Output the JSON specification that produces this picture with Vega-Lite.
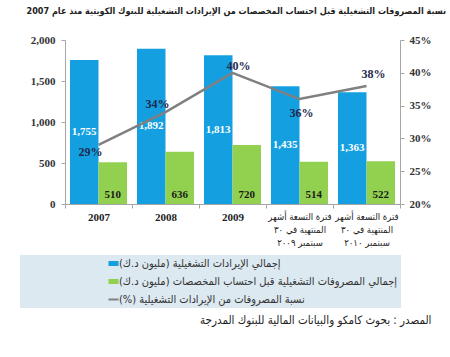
{
  "$schema": "https://vega.github.io/schema/vega-lite/v6.json",
  "width": 335,
  "height": 164,
  "autosize": {"type": "none"},
  "padding": {"left": 65, "top": 40, "right": 50, "bottom": 153},
  "background": "white",
  "config": {"view": {"stroke": null}, "font": "Liberation Serif"},
  "title": {
    "text": "نسبة المصروفات التشغيلية قبل احتساب المخصصات من الإيرادات التشغيلية للبنوك الكويتية منذ عام 2007",
    "anchor": "end",
    "frame": "group",
    "dx": 46,
    "offset": 18,
    "font": "DejaVu Sans Condensed",
    "fontSize": 9,
    "fontWeight": "bold",
    "color": "#222222"
  },
  "datasets": {
    "bars": [
      {"period": "2007", "series": "إجمالي الإيرادات التشغيلية (مليون د.ك)", "value": 1755},
      {"period": "2007", "series": "إجمالي المصروفات التشغيلية قبل احتساب المخصصات (مليون د.ك)", "value": 510},
      {"period": "2008", "series": "إجمالي الإيرادات التشغيلية (مليون د.ك)", "value": 1892},
      {"period": "2008", "series": "إجمالي المصروفات التشغيلية قبل احتساب المخصصات (مليون د.ك)", "value": 636},
      {"period": "2009", "series": "إجمالي الإيرادات التشغيلية (مليون د.ك)", "value": 1813},
      {"period": "2009", "series": "إجمالي المصروفات التشغيلية قبل احتساب المخصصات (مليون د.ك)", "value": 720},
      {"period": "فترة التسعة أشهر|المنتهية في ٣٠|سبتمبر ٢٠٠٩", "series": "إجمالي الإيرادات التشغيلية (مليون د.ك)", "value": 1435},
      {"period": "فترة التسعة أشهر|المنتهية في ٣٠|سبتمبر ٢٠٠٩", "series": "إجمالي المصروفات التشغيلية قبل احتساب المخصصات (مليون د.ك)", "value": 514},
      {"period": "فترة التسعة أشهر|المنتهية في ٣٠|سبتمبر ٢٠١٠", "series": "إجمالي الإيرادات التشغيلية (مليون د.ك)", "value": 1363},
      {"period": "فترة التسعة أشهر|المنتهية في ٣٠|سبتمبر ٢٠١٠", "series": "إجمالي المصروفات التشغيلية قبل احتساب المخصصات (مليون د.ك)", "value": 522}
    ],
    "ratio": [
      {"period": "2007", "ratio": 0.29},
      {"period": "2008", "ratio": 0.34},
      {"period": "2009", "ratio": 0.40},
      {"period": "فترة التسعة أشهر|المنتهية في ٣٠|سبتمبر ٢٠٠٩", "ratio": 0.36},
      {"period": "فترة التسعة أشهر|المنتهية في ٣٠|سبتمبر ٢٠١٠", "ratio": 0.38}
    ]
  },
  "layer": [
    {
      "data": {"name": "bars"},
      "mark": {"type": "bar"},
      "encoding": {
        "x": {
          "field": "period",
          "type": "nominal",
          "sort": null,
          "scale": {
            "domain": ["2007", "2008", "2009", "فترة التسعة أشهر|المنتهية في ٣٠|سبتمبر ٢٠٠٩", "فترة التسعة أشهر|المنتهية في ٣٠|سبتمبر ٢٠١٠"],
            "paddingInner": 0,
            "paddingOuter": 0
          },
          "axis": {
            "title": "المصدر : بحوث كامكو والبيانات المالية للبنوك المدرجة",
            "titleX": 366,
            "titleY": 116,
            "titleAnchor": "end",
            "titleAlign": "right",
            "titleBaseline": "middle",
            "titleFont": "DejaVu Sans Condensed",
            "titleFontSize": 11.5,
            "titleFontWeight": "normal",
            "titleColor": "#222222",
            "labelAngle": 0,
            "labelExpr": "split(datum.label, '|')",
            "labelFont": {"condition": {"test": "length(datum.label) < 5", "value": "Liberation Serif"}, "value": "DejaVu Sans Condensed"},
            "labelFontWeight": {"condition": {"test": "length(datum.label) < 5", "value": "bold"}, "value": "normal"},
            "labelFontSize": {"condition": {"test": "length(datum.label) < 5", "value": 11}, "value": 9.5},
            "labelColor": "#222222",
            "labelLineHeight": 13,
            "labelPadding": 3,
            "labelBaseline": "top",
            "labelLimit": 200,
            "tickBand": "extent",
            "tickSize": 4,
            "tickColor": "#a6a6a6",
            "domainColor": "#a6a6a6"
          }
        },
        "xOffset": {
          "field": "series",
          "type": "nominal",
          "scale": {
            "domain": ["إجمالي الإيرادات التشغيلية (مليون د.ك)", "إجمالي المصروفات التشغيلية قبل احتساب المخصصات (مليون د.ك)"],
            "paddingInner": 0,
            "paddingOuter": 0.175
          }
        },
        "y": {
          "field": "value",
          "type": "quantitative",
          "scale": {"domain": [0, 2000]},
          "axis": {
            "title": null,
            "values": [0, 500, 1000, 1500, 2000],
            "format": ",.0f",
            "grid": false,
            "labelFont": "Liberation Serif",
            "labelFontWeight": "bold",
            "labelFontSize": 11,
            "labelColor": "#333333",
            "tickSize": 4,
            "labelPadding": 6,
            "tickColor": "#a6a6a6",
            "domainColor": "#a6a6a6"
          }
        },
        "color": {
          "field": "series",
          "type": "nominal",
          "scale": {
            "domain": ["إجمالي الإيرادات التشغيلية (مليون د.ك)", "إجمالي المصروفات التشغيلية قبل احتساب المخصصات (مليون د.ك)", "نسبة المصروفات من الإيرادات التشغيلية (%)"],
            "range": ["#14a0e0", "#92d050", "#808080"]
          },
          "legend": {
            "orient": "none",
            "legendX": -45,
            "legendY": 215,
            "direction": "vertical",
            "title": null,
            "fillColor": "#dce9f1",
            "padding": 3,
            "symbolType": "stroke",
            "symbolSize": 100,
            "symbolStrokeWidth": 5,
            "symbolOffset": 85,
            "labelOffset": 0,
            "labelFont": "DejaVu Sans Condensed",
            "labelFontSize": 11,
            "labelColor": "#333333",
            "labelLimit": 400,
            "labelExpr": "datum.label + '\u200f\u2003\u2003\u2003\u2003\u2003\u2003\u2003\u2003\u2003'",
            "rowPadding": 6,
            "clipHeight": 11,
            "encode": {
              "symbols": {
                "update": {
                  "strokeWidth": {"signal": "datum.value === 'نسبة المصروفات من الإيرادات التشغيلية (%)' ? 2 : 5"},
                  "stroke": {"signal": "scale('color', datum.value)"}
                }
              }
            }
          }
        }
      }
    },
    {
      "data": {"name": "bars"},
      "transform": [{"filter": "datum.value > 1000"}],
      "mark": {"type": "text", "color": "white", "font": "Liberation Serif", "fontWeight": "bold", "fontSize": 11, "baseline": "middle"},
      "encoding": {
        "x": {"field": "period", "type": "nominal", "sort": null},
        "xOffset": {"field": "series", "type": "nominal"},
        "y": {"field": "value", "type": "quantitative", "scale": {"domain": [0, 4000]}, "axis": null},
        "text": {"field": "value", "type": "quantitative", "format": ","}
      }
    },
    {
      "data": {"name": "bars"},
      "transform": [{"filter": "datum.value < 1000"}],
      "mark": {"type": "text", "color": "#1a1a1a", "font": "Liberation Serif", "fontWeight": "bold", "fontSize": 11, "baseline": "middle", "dy": -9},
      "encoding": {
        "x": {"field": "period", "type": "nominal", "sort": null},
        "xOffset": {"field": "series", "type": "nominal"},
        "y": {"datum": 0, "type": "quantitative", "scale": {"domain": [0, 2000]}, "axis": null},
        "text": {"field": "value", "type": "quantitative", "format": ","}
      }
    },
    {
      "data": {"name": "ratio"},
      "mark": {"type": "line", "strokeWidth": 2.5},
      "encoding": {
        "x": {"field": "period", "type": "nominal", "sort": null},
        "y": {
          "field": "ratio",
          "type": "quantitative",
          "scale": {"domain": [0.2, 0.45]},
          "axis": {
            "orient": "right",
            "title": null,
            "values": [0.2, 0.25, 0.3, 0.35, 0.4, 0.45],
            "format": ".0%",
            "grid": false,
            "labelFont": "Liberation Serif",
            "labelFontWeight": "bold",
            "labelFontSize": 11,
            "labelColor": "#333333",
            "tickSize": 4,
            "labelPadding": 5,
            "tickColor": "#a6a6a6",
            "domainColor": "#a6a6a6"
          }
        },
        "color": {"datum": "نسبة المصروفات من الإيرادات التشغيلية (%)"}
      }
    },
    {
      "data": {"name": "ratio"},
      "mark": {
        "type": "text",
        "color": "#1f2a50",
        "font": "Liberation Serif",
        "fontWeight": "bold",
        "fontSize": 12,
        "baseline": "middle",
        "dx": {"expr": "datum.ratio === 0.29 ? -8 : datum.ratio === 0.34 ? -8 : datum.ratio === 0.4 ? 6 : datum.ratio === 0.36 ? 2 : 7"},
        "dy": {"expr": "datum.ratio === 0.29 ? 7 : datum.ratio === 0.34 ? -8 : datum.ratio === 0.4 ? -7 : datum.ratio === 0.36 ? 14 : -12"}
      },
      "encoding": {
        "x": {"field": "period", "type": "nominal", "sort": null},
        "y": {"field": "ratio", "type": "quantitative", "scale": {"domain": [0.2, 0.45]}, "axis": null},
        "text": {"field": "ratio", "type": "quantitative", "format": ".0%"}
      }
    }
  ],
  "resolve": {"scale": {"y": "independent"}}
}
